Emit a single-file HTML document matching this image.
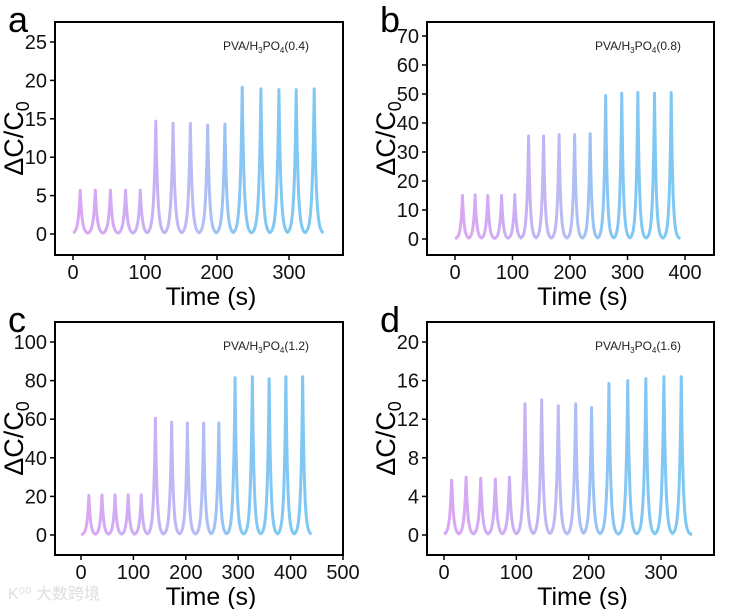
<!DOCTYPE html>
<html><head><meta charset="utf-8">
<style>
html,body{margin:0;padding:0;background:#fff;}
svg{display:block;font-family:"Liberation Sans",Arial,sans-serif;}
.wm{position:absolute;left:8px;top:580px;font:16px "Liberation Sans","Noto Sans CJK SC",sans-serif;color:#ddd;}
</style></head>
<body>
<div style="position:relative;width:737px;height:609px;">
<svg id="chart" width="737" height="609" viewBox="0 0 737 609"></svg>
<div class="wm">K⁰⁰ 大数跨境</div>
</div>
<script>
// Panel data
const panelLabels = ["a","b","c","d"];
const legendTexts = ["0.4","0.8","1.2","1.6"];
const peakTimesA = [10,31,52,73,93.5, 115,139,163,187,211, 235,261,286,310,335];
const peakValsA  = [5.7,5.7,5.7,5.7,5.7, 14.7,14.4,14.4,14.2,14.3, 19.1,18.9,18.8,18.8,18.9];
const peakTimesB = [13,35,57,81,104, 128,154,181,208,235, 262,290,318,347,376];
const peakValsB  = [15,15.2,15,15,15.3, 35.5,35.5,36,36,36.3, 49.5,50.3,50.5,50.3,50.5];
const peakTimesC = [15,40,65,90,115, 142,173,203,234,263, 294,327,359,391,423];
const peakValsC  = [20.5,20.8,20.8,20.8,20.8, 60.5,58.5,58,58,58, 81.5,82,81,82,82];
const peakTimesD = [10.6,30.5,50.8,71,90.5, 112,135,158,182,204, 228,254,279,304,328];
const peakValsD  = [5.9,6,6,5.8,6, 13.6,14,13.4,13.6,13.2, 15.7,16,16.2,16.4,16.4];
const endTimes = [348,392,440,343];
const xTicksA = [0,100,200,300];
const xTicksB = [0,100,200,300,400];
const xTicksC = [0,100,200,300,400,500];
const xTicksD = [0,100,200,300];
const yTicksA = [0,5,10,15,20,25];
const yTicksB = [0,10,20,30,40,50,60,70];
const yTicksC = [0,20,40,60,80,100];
const yTicksD = [0,4,8,12,16,20];

const NS="http://www.w3.org/2000/svg";
const svg=document.getElementById('chart');
function mk(tag,attrs,parent){const e=document.createElementNS(NS,tag);for(const k in attrs)e.setAttribute(k,attrs[k]);(parent||svg).appendChild(e);return e;}

const layouts=[
 {fx0:55,fx1:343,fy0:22,fy1:255, x0px:73,  x1px:289,x1v:300, y0px:234,y1px:42, y1v:25},
 {fx0:427,fx1:714,fy0:22,fy1:255,x0px:455, x1px:685,x1v:400, y0px:239,y1px:36, y1v:70},
 {fx0:55,fx1:343,fy0:322,fy1:555,x0px:81,  x1px:343,x1v:500, y0px:535,y1px:342,y1v:100},
 {fx0:427,fx1:714,fy0:322,fy1:555,x0px:444,x1px:661,x1v:300, y0px:535,y1px:342,y1v:20}
];
const allTimes=[peakTimesA,peakTimesB,peakTimesC,peakTimesD];
const allVals=[peakValsA,peakValsB,peakValsC,peakValsD];
const allXT=[xTicksA,xTicksB,xTicksC,xTicksD];
const allYT=[yTicksA,yTicksB,yTicksC,yTicksD];

const defs=mk('defs',{});
layouts.forEach((L,i)=>{
  const xs=v=>L.x0px+(L.x1px-L.x0px)*v/L.x1v;
  const ys=v=>L.y0px+(L.y1px-L.y0px)*v/L.y1v;
  const g=mk('g',{});
  
  
  const gr=mk('linearGradient',{id:'grad'+i,gradientUnits:'userSpaceOnUse',x1:xs(0),y1:0,x2:xs(endTimes[i]),y2:0},defs);
  [['0','#dca6f4'],['0.3','#c9b0f4'],['0.5','#b8bdf5'],['0.68','#86c6f4'],['1','#7cc9f3']].forEach(s=>mk('stop',{offset:s[0],'stop-color':s[1]},gr));
  const T=allTimes[i],V=allVals[i];
  const tau=Math.min(...T.slice(1).map((t,k)=>t-T[k]))*0.13;
  let d='';
  for(let t=0;t<=endTimes[i];t+=0.25){
    let y=0;
    for(let k=0;k<T.length;k++){const dt=Math.abs(t-T[k]);y=Math.max(y,V[k]*Math.exp(-dt/tau));}
    d+=(d?'L':'M')+xs(t).toFixed(2)+','+ys(y).toFixed(2);
  }
  const p=mk('path',{d:d,fill:'none',stroke:'url(#grad'+i+')','stroke-width':3,'stroke-linejoin':'round'},g);
  
  
  const fr=mk('rect',{x:L.fx0,y:L.fy0,width:L.fx1-L.fx0,height:L.fy1-L.fy0,fill:'none',stroke:'#000','stroke-width':2},g);
  
  
  allXT[i].forEach(v=>{
    mk('line',{x1:xs(v),x2:xs(v),y1:L.fy1,y2:L.fy1+5,stroke:'#000','stroke-width':1.5},g);
    const t=mk('text',{x:xs(v),y:L.fy1+24,'text-anchor':'middle','font-size':20,fill:'#111'},g);
    t.textContent=v;
    
    
  });
  allYT[i].forEach(v=>{
    mk('line',{x1:L.fx0-5,x2:L.fx0,y1:ys(v),y2:ys(v),stroke:'#000','stroke-width':1.5},g);
    const t=mk('text',{x:L.fx0-8,y:ys(v)+7,'text-anchor':'end','font-size':20,fill:'#111'},g);
    t.textContent=v;
    
    
  });
  const xt=mk('text',{x:(L.fx0+L.fx1)/2+12,y:L.fy1+50,'text-anchor':'middle','font-size':25,fill:'#000'},g);
  xt.textContent='Time (s)';
  
  
  const yx=L.fx0-32, yc=(L.fy0+L.fy1)/2;
  const yt=mk('text',{x:yx,y:yc,'text-anchor':'middle','font-size':27,fill:'#000',transform:`rotate(-90 ${yx} ${yc})`},g);
  yt.innerHTML='ΔC/C<tspan font-size="18" dy="6">0</tspan>';
  
  
  const pl=mk('text',{x:L.fx0-47,y:L.fy0+10,'font-size':36,fill:'#000'},g);
  pl.textContent=panelLabels[i];
  
  
  const an=mk('text',{x:L.fx0+168,y:L.fy0+28,'font-size':12,fill:'#222'},g);
  an.innerHTML='PVA/H<tspan font-size="8" dy="3">3</tspan><tspan dy="-3">PO</tspan><tspan font-size="8" dy="3">4</tspan><tspan dy="-3">('+legendTexts[i]+')</tspan>';
  
  
});
</script>
</body></html>
